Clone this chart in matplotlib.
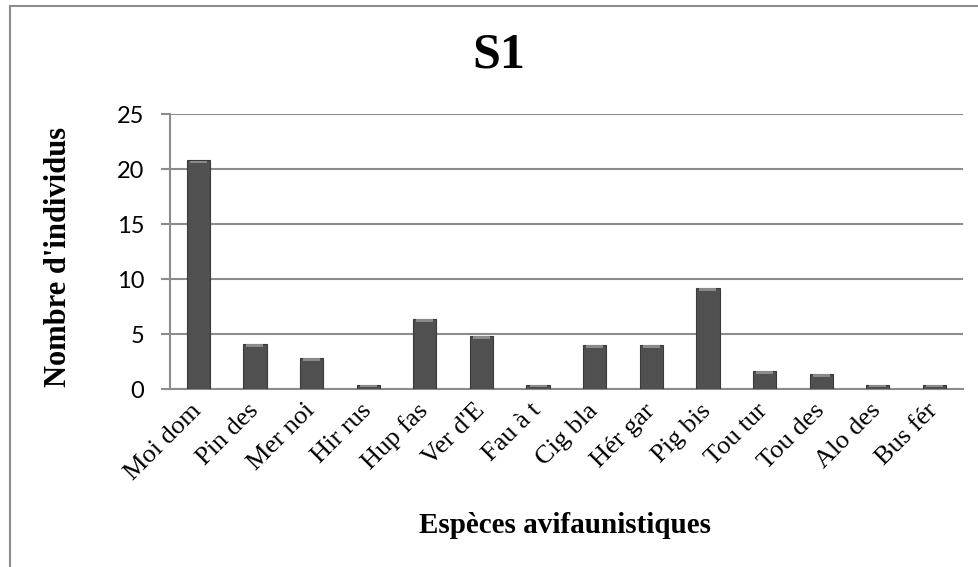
import matplotlib
matplotlib.use("Agg")
import matplotlib.pyplot as plt
import numpy as np

especes = ["Moi dom", "Pin des", "Mer noi", "Hir rus", "Hup fas", "Ver d'E", "Fau à t",
           "Cig bla", "Hér gar", "Pig bis", "Tou tur", "Tou des", "Alo des", "Bus fér"]
individus = [20.8, 4.1, 2.85, 0.35, 6.4, 4.85, 0.35, 4.0, 4.0, 9.2, 1.65, 1.4, 0.35, 0.35]
yticks = [0, 5, 10, 15, 20, 25]

serif = "Liberation Serif"
grey = "#8c8c8c"

fig = plt.figure(figsize=(9.79, 5.67), dpi=100)
ax = fig.add_axes([170 / 979, 1 - 389.3 / 567, (962.7 - 170) / 979, 275 / 567])

x = np.arange(len(especes))
ax.bar(x, individus, width=0.41, color="#505050", edgecolor="#3a3a3a", linewidth=0.8, zorder=3)
# petit reflet en haut des barres
ax.bar(x, [min(0.25, v * 0.3) for v in individus], bottom=[v - min(0.25, v * 0.3) for v in individus],
       width=0.3, color="#8a8a8a", linewidth=0, zorder=4)

ax.set_xlim(-0.5, len(especes) - 0.5)
ax.set_ylim(0, 25)
ax.set_yticks(yticks)
ax.grid(axis="y", color=grey, linewidth=1.5, zorder=0)
for s in ["top", "right"]:
    ax.spines[s].set_visible(False)
for s in ["left", "bottom"]:
    ax.spines[s].set_color(grey)
    ax.spines[s].set_linewidth(1.5)

ax.tick_params(axis="y", length=6.5, width=1.5, color=grey, pad=12, labelsize=17)
for lab in ax.get_yticklabels():
    lab.set_family("Lato")
ax.set_xticks(x)
ax.set_xticklabels(especes, rotation=45, ha="right", va="center", rotation_mode="anchor",
                   family=serif, fontsize=19)
ax.tick_params(axis="x", length=0, pad=13)

ax.set_xlabel("Espèces avifaunistiques", family=serif, fontsize=21, fontweight="bold")
ax.xaxis.set_label_coords(0.498, -0.446)
ax.set_ylabel("Nombre d'individus", family=serif, fontsize=22, fontweight="bold")
ax.yaxis.set_label_coords(-0.1224, 0.483)

fig.text(499 / 979, 1 - 55 / 567, "S1", family=serif, fontsize=36, fontweight="bold",
         ha="center", va="center")

# cadre du graphique (gauche et haut)
fig.add_artist(plt.Line2D([10 / 979, 10 / 979], [0, 1 - 6 / 567], color=grey, linewidth=1.5))
fig.add_artist(plt.Line2D([10 / 979, 1], [1 - 6 / 567, 1 - 6 / 567], color=grey, linewidth=1.5))

fig.savefig("out.png", dpi=100)
